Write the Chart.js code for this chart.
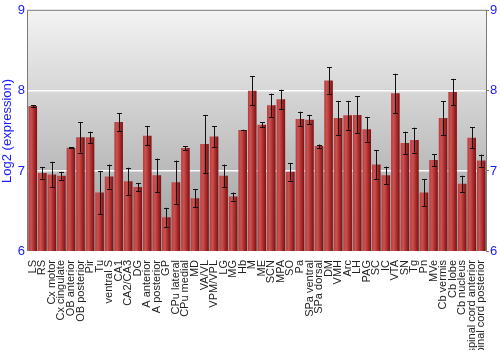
<!DOCTYPE html>
<html>
<head>
<meta charset="utf-8">
<script src="https://cdn.jsdelivr.net/npm/chart.js@4"></script>
<style>
  html, body { margin: 0; padding: 0; background: #fff; }
  #wrap { width: 500px; height: 350px; }
</style>
</head>
<body>
<div id="wrap"><canvas id="chart"></canvas></div>
<script>
// regions and log2 expression
const regions = ['LS', 'RS', 'Cx motor', 'Cx cingulate', 'OB anterior', 'OB posterior', 'Pir', 'Tu',
  'ventral S', 'CA1', 'CA2/CA3', 'DG', 'A anterior', 'A posterior', 'GP', 'CPu lateral', 'CPu medial',
  'MD', 'VA/VL', 'VPM/VPL', 'LG', 'MG', 'Hb', 'M', 'ME', 'SCN', 'MPA', 'SO', 'Pa', 'SPa ventral',
  'SPa dorsal', 'DM', 'VMH', 'Arc', 'LH', 'PAG', 'SC', 'IC', 'VTA', 'SN', 'Tg', 'Pn', 'MVe',
  'Cb vermis', 'Cb lobe', 'Cb nucleus', 'spinal cord anterior', 'spinal cord posterior'];
const expression = [7.81, 6.975, 6.955, 6.94, 7.29, 7.42, 7.42, 6.73,
  6.93, 7.61, 6.87, 6.80, 7.44, 6.945, 6.42, 6.86, 7.285,
  6.66, 7.335, 7.43, 6.94, 6.68, 7.51, 8.0, 7.576, 7.82, 7.895, 6.99, 7.65, 7.64,
  7.31, 8.13, 7.66, 7.695, 7.70, 7.52, 7.08, 6.945, 7.97, 7.35, 7.385, 6.73, 7.135,
  7.66, 7.985, 6.84, 7.415, 7.13];
const errors = [0.01, 0.07, 0.16, 0.05, 0.005, 0.19, 0.07, 0.27,
  0.15, 0.11, 0.17, 0.05, 0.12, 0.21, 0.12, 0.27, 0.025,
  0.11, 0.365, 0.13, 0.14, 0.05, 0.005, 0.18, 0.03, 0.145, 0.12, 0.11, 0.09, 0.06,
  0.02, 0.165, 0.215, 0.18, 0.23, 0.155, 0.18, 0.11, 0.245, 0.14, 0.155, 0.17, 0.075,
  0.21, 0.165, 0.1, 0.13, 0.075];
const yTicks = [6, 7, 8, 9];

const BLUE = '#1a1aff';
const FONT = 'Liberation Sans, Arial, sans-serif';
const BAR_PCT = 0.9;

// grey background behind the plot
const backdrop = {
  id: 'backdrop',
  beforeDraw(chart) {
    const { ctx, chartArea: a } = chart;
    const g = ctx.createLinearGradient(0, a.top, 0, a.bottom);
    g.addColorStop(0, '#f3f3f3');
    g.addColorStop(1, '#9d9d9d');
    ctx.save();
    ctx.fillStyle = g;
    ctx.fillRect(a.left, a.top, a.right - a.left, a.bottom - a.top);
    ctx.restore();
  },
  afterDraw(chart) {
    const { ctx, chartArea: a } = chart;
    ctx.save();
    ctx.strokeStyle = '#7a7a7a';
    ctx.lineWidth = 1;
    ctx.beginPath();
    ctx.moveTo(a.left - 0.5, a.bottom);
    ctx.lineTo(a.left - 0.5, a.top - 0.5);
    ctx.lineTo(a.right + 0.5, a.top - 0.5);
    ctx.lineTo(a.right + 0.5, a.bottom);
    ctx.stroke();
    ctx.restore();
  }
};

// error bars on top of each bar
const errorBars = {
  id: 'errorBars',
  afterDatasetsDraw(chart) {
    const { ctx } = chart;
    const y = chart.scales.y;
    ctx.save();
    chart.getDatasetMeta(0).data.forEach((bar, i) => {
      const x = Math.round(bar.x) + 0.5;
      const hi = y.getPixelForValue(expression[i] + errors[i]);
      const lo = y.getPixelForValue(expression[i] - errors[i]);
      ctx.strokeStyle = '#111';
      ctx.lineWidth = 1;
      ctx.beginPath();
      ctx.moveTo(x, hi); ctx.lineTo(x, lo);
      ctx.moveTo(x - 2.5, Math.round(hi) + 0.5); ctx.lineTo(x + 2.5, Math.round(hi) + 0.5);
      ctx.moveTo(x - 2.5, Math.round(lo) + 0.5); ctx.lineTo(x + 2.5, Math.round(lo) + 0.5);
      ctx.stroke();
    });
    ctx.restore();
  }
};

// shaded red fill across each bar
function barFill(context) {
  const chart = context.chart;
  const a = chart.chartArea;
  if (!a || !chart.scales.x) return '#a83030';
  const x = chart.scales.x.getPixelForValue(context.dataIndex);
  const w = (a.right - a.left) / regions.length * BAR_PCT;
  const g = chart.ctx.createLinearGradient(x - w / 2, 0, x + w / 2, 0);
  g.addColorStop(0, '#b33c3c');
  g.addColorStop(0.3, '#cc5252');
  g.addColorStop(0.7, '#a52828');
  g.addColorStop(1, '#781010');
  return g;
}

const tickFont = { family: FONT, size: 13 };

new Chart(document.getElementById('chart'), {
  type: 'bar',
  data: {
    labels: regions,
    datasets: [{
      data: expression,
      backgroundColor: barFill,
      borderWidth: 0,
      barPercentage: BAR_PCT,
      categoryPercentage: 1
    }]
  },
  options: {
    responsive: true,
    maintainAspectRatio: false,
    animation: false,
    layout: { padding: { top: 9, left: 0, right: 0, bottom: 0 } },
    plugins: { legend: { display: false }, tooltip: { enabled: false } },
    scales: {
      x: {
        grid: { display: false },
        border: { display: false },
        ticks: {
          autoSkip: false, minRotation: 90, maxRotation: 90, padding: 1,
          color: '#222', font: { family: FONT, size: 11 }
        },
        afterFit: (s) => { s.height = 99; }
      },
      y: {
        min: 6, max: 9,
        afterBuildTicks: (s) => { s.ticks = yTicks.map(v => ({ value: v })); },
        grid: {
          color: (c) => (c.tick && (c.tick.value === 7 || c.tick.value === 8)) ? '#ffffff' : 'rgba(0,0,0,0)',
          lineWidth: 1.5,
          drawTicks: false
        },
        border: { display: false },
        ticks: { color: BLUE, font: tickFont, padding: 3 },
        title: { display: true, text: 'Log2 (expression)', color: BLUE, font: { family: FONT, size: 13 }, padding: 0 },
        afterFit: (s) => { s.width = 28; }
      },
      y2: {
        position: 'right',
        min: 6, max: 9,
        afterBuildTicks: (s) => { s.ticks = yTicks.map(v => ({ value: v })); },
        grid: { drawOnChartArea: false, color: '#7a7a7a', tickLength: 3 },
        border: { display: false },
        ticks: { color: BLUE, font: tickFont, padding: 1 },
        afterFit: (s) => { s.width = 14; }
      }
    }
  },
  plugins: [backdrop, errorBars]
});
</script>
</body>
</html>
